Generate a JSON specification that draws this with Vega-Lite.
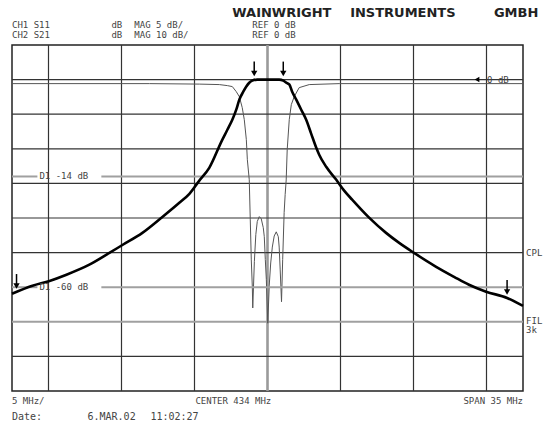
{
  "$schema": "https://vega.github.io/schema/vega-lite/v6.json",
  "width": 511,
  "height": 346,
  "autosize": "none",
  "padding": {"left": 12, "top": 45, "right": 26, "bottom": 30},
  "background": "white",
  "config": {"view": {"stroke": "#222", "strokeWidth": 1.5}},
  "datasets": {
    "s21": [
      {"f": 416.5, "db": -61.9}, {"f": 417.9, "db": -59.6}, {"f": 419.07, "db": -58.2}, {"f": 420.23, "db": -56.4},
      {"f": 421.8, "db": -53.5}, {"f": 423.17, "db": -50.1}, {"f": 424.06, "db": -47.8}, {"f": 425.43, "db": -44.3},
      {"f": 426.8, "db": -39.7}, {"f": 427.96, "db": -35.6}, {"f": 428.65, "db": -33.0}, {"f": 429.33, "db": -29.2},
      {"f": 430.01, "db": -25.5}, {"f": 430.9, "db": -17.4}, {"f": 431.25, "db": -14.5}, {"f": 431.59, "db": -11.6},
      {"f": 431.86, "db": -8.7}, {"f": 432.07, "db": -5.8}, {"f": 432.34, "db": -3.5}, {"f": 432.55, "db": -2.0},
      {"f": 432.75, "db": -0.9}, {"f": 432.96, "db": -0.3}, {"f": 433.3, "db": 0}, {"f": 434.8, "db": 0},
      {"f": 435.08, "db": -0.3}, {"f": 435.28, "db": -0.9}, {"f": 435.49, "db": -1.4}, {"f": 435.69, "db": -3.5},
      {"f": 435.97, "db": -5.8}, {"f": 436.31, "db": -8.7}, {"f": 436.65, "db": -11.6}, {"f": 436.99, "db": -15.6},
      {"f": 437.34, "db": -19.7}, {"f": 437.54, "db": -21.7}, {"f": 438.02, "db": -25.2}, {"f": 438.7, "db": -28.9},
      {"f": 439.25, "db": -32.1}, {"f": 439.8, "db": -34.7}, {"f": 440.96, "db": -39.9}, {"f": 442.12, "db": -44.3},
      {"f": 443.02, "db": -47.2}, {"f": 444.04, "db": -50.1}, {"f": 445.55, "db": -54.1}, {"f": 446.78, "db": -57.0},
      {"f": 447.8, "db": -59.3}, {"f": 448.97, "db": -61.3}, {"f": 450.41, "db": -63.1}, {"f": 451.5, "db": -65.4}
    ],
    "s11": [
      {"f": 416.5, "db": -0.58}, {"f": 425.91, "db": -0.58}, {"f": 429.33, "db": -0.65}, {"f": 430.7, "db": -0.72},
      {"f": 431.25, "db": -0.87}, {"f": 431.59, "db": -1.01}, {"f": 431.86, "db": -1.74}, {"f": 432.07, "db": -2.46},
      {"f": 432.27, "db": -4.05}, {"f": 432.41, "db": -5.79}, {"f": 432.55, "db": -8.68}, {"f": 432.62, "db": -11.58},
      {"f": 432.75, "db": -14.47}, {"f": 432.82, "db": -20.26}, {"f": 432.89, "db": -26.05}, {"f": 432.96, "db": -29.96},
      {"f": 432.99, "db": -33.0}, {"f": 433.1, "db": -26.3}, {"f": 433.2, "db": -22.4}, {"f": 433.3, "db": -20.5},
      {"f": 433.44, "db": -19.8}, {"f": 433.57, "db": -20.1}, {"f": 433.71, "db": -21.4}, {"f": 433.78, "db": -22.7},
      {"f": 433.85, "db": -26.0}, {"f": 433.92, "db": -28.9}, {"f": 434.02, "db": -35.2}, {"f": 434.12, "db": -29.7},
      {"f": 434.22, "db": -26.5}, {"f": 434.33, "db": -24.2}, {"f": 434.46, "db": -22.6}, {"f": 434.6, "db": -22.0},
      {"f": 434.74, "db": -22.7}, {"f": 434.8, "db": -24.2}, {"f": 434.87, "db": -27.5}, {"f": 434.96, "db": -32.1},
      {"f": 435.04, "db": -26.0}, {"f": 435.14, "db": -19.2}, {"f": 435.21, "db": -16.6}, {"f": 435.28, "db": -14.5},
      {"f": 435.35, "db": -10.1}, {"f": 435.49, "db": -5.79}, {"f": 435.63, "db": -3.62}, {"f": 435.83, "db": -2.46},
      {"f": 436.17, "db": -1.16}, {"f": 436.86, "db": -0.72}, {"f": 438.91, "db": -0.58}, {"f": 451.5, "db": -0.58}
    ],
    "vgrid": [{"f": 419}, {"f": 424}, {"f": 429}, {"f": 439}, {"f": 444}, {"f": 449}],
    "center": [{"f": 434}],
    "hgrid": [{"db": 0}, {"db": -10}, {"db": -20}, {"db": -30}, {"db": -40}, {"db": -50}, {"db": -80}],
    "hgray": [{"db": -70}],
    "d1s21": [{"f1": 416.5, "f2": 418.24, "db": -60}, {"f1": 422.62, "f2": 451.5, "db": -60}],
    "d1s11": [{"f1": 416.5, "f2": 418.24, "db": -14}, {"f1": 422.62, "f2": 451.5, "db": -14}],
    "d1label11": [{"label": "D1  -14  dB", "f": 418.38, "db": -14}],
    "markers": [{"f": 433.09, "db": 0}, {"f": 435.08, "db": 0}, {"f": 416.81, "db": -61.4}, {"f": 450.41, "db": -63.1}],
    "refmark": [{"f": 448.35, "db": 0}],
    "textLeft": [
      {"label": "CH1  S11", "f": 416.5, "db": 15.9},
      {"label": "dB", "f": 423.31, "db": 15.9},
      {"label": "MAG  5 dB/", "f": 424.88, "db": 15.9},
      {"label": "REF 0 dB", "f": 432.96, "db": 15.9},
      {"label": "CH2  S21", "f": 416.5, "db": 13.0},
      {"label": "dB", "f": 423.31, "db": 13.0},
      {"label": "MAG  10 dB/", "f": 424.88, "db": 13.0},
      {"label": "REF 0 dB", "f": 432.96, "db": 13.0},
      {"label": "0 dB", "f": 449.04, "db": 0},
      {"label": "CPL", "f": 451.71, "db": -50},
      {"label": "FIL", "f": 451.71, "db": -69.8},
      {"label": "3k", "f": 451.71, "db": -72.4},
      {"label": "D1  -60  dB", "f": 418.38, "db": -60},
      {"label": "5 MHz/", "f": 416.5, "db": -92.9},
      {"label": "CENTER 434 MHz", "f": 429.06, "db": -92.9}
    ],
    "textRight": [{"label": "SPAN 35 MHz", "f": 451.5, "db": -92.9}],
    "dateRow": [
      {"label": "Date:", "f": 416.5, "db": -97.5},
      {"label": "6.MAR.02", "f": 421.67, "db": -97.5},
      {"label": "11:02:27", "f": 425.98, "db": -97.5}
    ],
    "brand": [
      {"label": "WAINWRIGHT", "f": 431.59, "db": 19.3},
      {"label": "INSTRUMENTS", "f": 439.66, "db": 19.3},
      {"label": "GMBH", "f": 449.51, "db": 19.3}
    ]
  },
  "resolve": {"scale": {"y": "independent"}},
  "layer": [
    {
      "layer": [
        {
          "data": {"name": "vgrid"},
          "mark": {"type": "rule", "color": "#333", "strokeWidth": 1.2},
          "encoding": {"x": {"field": "f", "type": "quantitative", "scale": {"domain": [416.5, 451.5], "nice": false, "zero": false}, "axis": null}}
        },
        {
          "data": {"name": "center"},
          "mark": {"type": "rule", "color": "#9a9a9a", "strokeWidth": 2.6},
          "encoding": {"x": {"field": "f", "type": "quantitative", "axis": null}}
        },
        {
          "data": {"name": "hgrid"},
          "mark": {"type": "rule", "color": "#333", "strokeWidth": 1.2},
          "encoding": {"y": {"field": "db", "type": "quantitative", "scale": {"domain": [-90, 10], "nice": false, "zero": false}, "axis": null}}
        },
        {
          "data": {"name": "hgray"},
          "mark": {"type": "rule", "color": "#a0a0a0", "strokeWidth": 2},
          "encoding": {"y": {"field": "db", "type": "quantitative", "axis": null}}
        }
      ]
    },
    {
      "layer": [
        {
          "data": {"name": "d1s11"},
          "mark": {"type": "rule", "color": "#a0a0a0", "strokeWidth": 2},
          "encoding": {
            "x": {"field": "f1", "type": "quantitative", "axis": null},
            "x2": {"field": "f2"},
            "y": {"field": "db", "type": "quantitative", "scale": {"domain": [-45, 5], "nice": false, "zero": false}, "axis": null}
          }
        },
        {
          "data": {"name": "d1label11"},
          "mark": {"type": "text", "align": "left", "baseline": "middle", "font": "DejaVu Sans Mono", "fontSize": 9, "fill": "#444"},
          "encoding": {
            "x": {"field": "f", "type": "quantitative", "axis": null},
            "y": {"field": "db", "type": "quantitative", "axis": null},
            "text": {"field": "label"}
          }
        },
        {
          "data": {"name": "s11"},
          "mark": {"type": "line", "color": "#555", "strokeWidth": 1},
          "encoding": {
            "x": {"field": "f", "type": "quantitative", "axis": null},
            "y": {"field": "db", "type": "quantitative", "axis": null}
          }
        }
      ]
    },
    {
      "layer": [
        {
          "data": {"name": "d1s21"},
          "mark": {"type": "rule", "color": "#a0a0a0", "strokeWidth": 2},
          "encoding": {
            "x": {"field": "f1", "type": "quantitative", "axis": null},
            "x2": {"field": "f2"},
            "y": {"field": "db", "type": "quantitative", "scale": {"domain": [-90, 10], "nice": false, "zero": false}, "axis": null}
          }
        },
        {
          "data": {"name": "s21"},
          "mark": {"type": "line", "color": "#000", "strokeWidth": 2.6, "interpolate": "monotone"},
          "encoding": {
            "x": {"field": "f", "type": "quantitative", "axis": null},
            "y": {"field": "db", "type": "quantitative", "axis": null}
          }
        },
        {
          "data": {"name": "markers"},
          "mark": {"type": "rule", "color": "#000", "strokeWidth": 1.5, "yOffset": -18, "y2Offset": -8},
          "encoding": {
            "x": {"field": "f", "type": "quantitative", "axis": null},
            "y": {"field": "db", "type": "quantitative", "axis": null},
            "y2": {"field": "db"}
          }
        },
        {
          "data": {"name": "markers"},
          "mark": {"type": "point", "shape": "triangle-down", "filled": true, "color": "#000", "size": 40, "opacity": 1, "yOffset": -6},
          "encoding": {
            "x": {"field": "f", "type": "quantitative", "axis": null},
            "y": {"field": "db", "type": "quantitative", "axis": null}
          }
        },
        {
          "data": {"name": "refmark"},
          "mark": {"type": "point", "shape": "triangle-left", "filled": true, "color": "#000", "size": 30, "opacity": 1},
          "encoding": {
            "x": {"field": "f", "type": "quantitative", "axis": null},
            "y": {"field": "db", "type": "quantitative", "axis": null}
          }
        },
        {
          "data": {"name": "textLeft"},
          "mark": {"type": "text", "align": "left", "baseline": "middle", "font": "DejaVu Sans Mono", "fontSize": 9, "fill": "#444"},
          "encoding": {
            "x": {"field": "f", "type": "quantitative", "axis": null},
            "y": {"field": "db", "type": "quantitative", "axis": null},
            "text": {"field": "label"}
          }
        },
        {
          "data": {"name": "textRight"},
          "mark": {"type": "text", "align": "right", "baseline": "middle", "font": "DejaVu Sans Mono", "fontSize": 9, "fill": "#444"},
          "encoding": {
            "x": {"field": "f", "type": "quantitative", "axis": null},
            "y": {"field": "db", "type": "quantitative", "axis": null},
            "text": {"field": "label"}
          }
        },
        {
          "data": {"name": "dateRow"},
          "mark": {"type": "text", "align": "left", "baseline": "middle", "font": "DejaVu Sans Mono", "fontSize": 10, "fill": "#444"},
          "encoding": {
            "x": {"field": "f", "type": "quantitative", "axis": null},
            "y": {"field": "db", "type": "quantitative", "axis": null},
            "text": {"field": "label"}
          }
        },
        {
          "data": {"name": "brand"},
          "mark": {"type": "text", "align": "left", "baseline": "middle", "font": "DejaVu Sans", "fontSize": 13, "fontWeight": "bold", "fill": "#222"},
          "encoding": {
            "x": {"field": "f", "type": "quantitative", "axis": null},
            "y": {"field": "db", "type": "quantitative", "axis": null},
            "text": {"field": "label"}
          }
        }
      ]
    }
  ]
}
